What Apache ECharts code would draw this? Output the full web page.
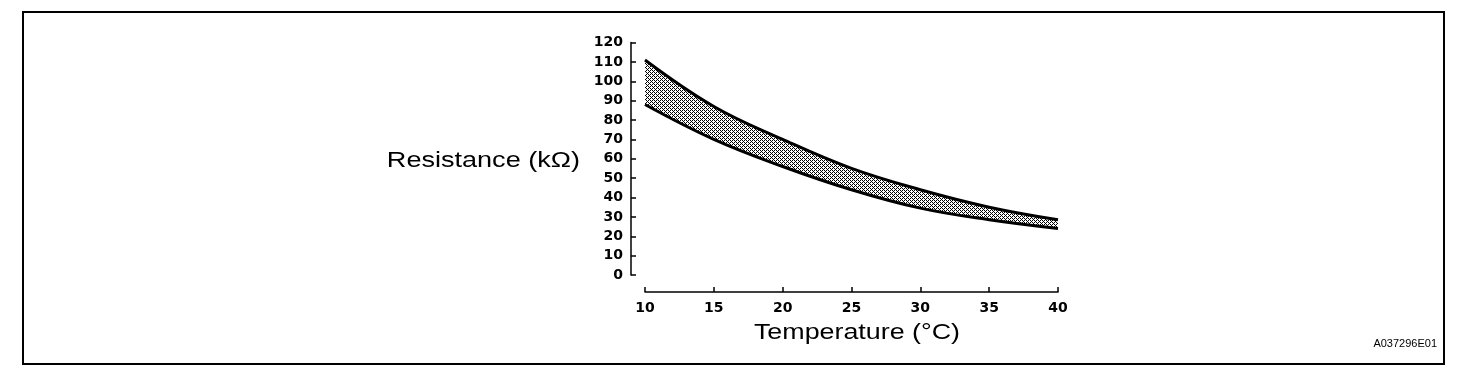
<!DOCTYPE html>
<html>
<head>
<meta charset="utf-8">
<script src="https://cdn.jsdelivr.net/npm/echarts@6/dist/echarts.min.js"></script>
<style>
  html, body { margin: 0; padding: 0; background: #fff; }
  #chart { width: 1472px; height: 376px; }
</style>
</head>
<body>
<div id="chart"></div>
<script>
// values
var temps = [10, 15, 20, 25, 30, 35, 40];
var upperK = [111, 87, 70, 55, 44, 35, 28.5];
var lowerK = [88, 70, 56, 44, 34.5, 28.5, 24];
var yTicks = [0, 10, 20, 30, 40, 50, 60, 70, 80, 90, 100, 110, 120];

// stipple pattern for the tolerance band
function makeStipple() {
    var c = document.createElement('canvas');
    c.width = 4;
    c.height = 4;
    var ctx = c.getContext('2d');
    ctx.fillStyle = '#fff';
    ctx.fillRect(0, 0, 4, 4);
    ctx.fillStyle = '#000';
    var rows = ['1010', '0001', '1010', '0100'];
    for (var r = 0; r < rows.length; r++) {
        for (var k = 0; k < 4; k++) {
            if (rows[r][k] === '1') ctx.fillRect(k, r, 1, 1);
        }
    }
    return c;
}

function pairs(xs, ys) {
    var out = [];
    for (var i = 0; i < xs.length; i++) out.push([xs[i], ys[i]]);
    return out;
}

var tickFont = {
    fontFamily: 'DejaVu Sans',
    fontWeight: 'bold',
    fontSize: 14,
    color: '#000'
};

var myChart = echarts.init(document.getElementById('chart'), null, {renderer: 'canvas'});

var option = {
    animation: false,
    backgroundColor: '#fff',
    grid: {
        left: 645,
        right: 414,
        top: 42.5,
        bottom: 101
    },
    xAxis: {
        type: 'value',
        min: 10,
        max: 40,
        interval: 5,
        offset: 17,
        axisLine: {onZero: false, lineStyle: {color: '#000', width: 1.5}},
        axisTick: {inside: true, length: 5, lineStyle: {color: '#000', width: 1.5}},
        axisLabel: Object.assign({margin: 9}, tickFont),
        splitLine: {show: false}
    },
    yAxis: {
        type: 'value',
        min: yTicks[0],
        max: yTicks[yTicks.length - 1],
        interval: 10,
        offset: 14,
        axisLine: {onZero: false, lineStyle: {color: '#000', width: 1.5}},
        axisTick: {inside: true, length: 5, lineStyle: {color: '#000', width: 1.5}},
        axisLabel: Object.assign({margin: 8, padding: [0, 0, 4, 0]}, tickFont),
        splitLine: {show: false}
    },
    series: [
        {
            name: 'upper',
            type: 'line',
            smooth: 0.4,
            showSymbol: false,
            data: pairs(temps, upperK),
            lineStyle: {color: '#000', width: 3},
            areaStyle: {color: {image: makeStipple(), repeat: 'repeat'}, opacity: 1},
            z: 2
        },
        {
            name: 'lower',
            type: 'line',
            smooth: 0.4,
            showSymbol: false,
            data: pairs(temps, lowerK),
            lineStyle: {color: '#000', width: 3},
            areaStyle: {color: '#fff', opacity: 1},
            z: 3
        }
    ],
    graphic: [
        {
            type: 'rect',
            shape: {x: 23, y: 12, width: 1421, height: 352},
            style: {fill: 'none', stroke: '#000', lineWidth: 2}
        },
        {
            type: 'text',
            x: 580,
            y: 161,
            scaleX: 1.23,
            style: {
                text: 'Resistance (kΩ)',
                fontFamily: 'Liberation Sans',
                fontSize: 22,
                fill: '#000',
                align: 'right',
                verticalAlign: 'middle'
            }
        },
        {
            type: 'text',
            x: 857,
            y: 333,
            scaleX: 1.22,
            style: {
                text: 'Temperature (°C)',
                fontFamily: 'Liberation Sans',
                fontSize: 22,
                fill: '#000',
                align: 'center',
                verticalAlign: 'middle'
            }
        },
        {
            type: 'text',
            x: 1437,
            y: 344,
            style: {
                text: 'A037296E01',
                fontFamily: 'Liberation Sans',
                fontSize: 11,
                fill: '#000',
                align: 'right',
                verticalAlign: 'middle'
            }
        }
    ]
};

myChart.setOption(option);
</script>
</body>
</html>
